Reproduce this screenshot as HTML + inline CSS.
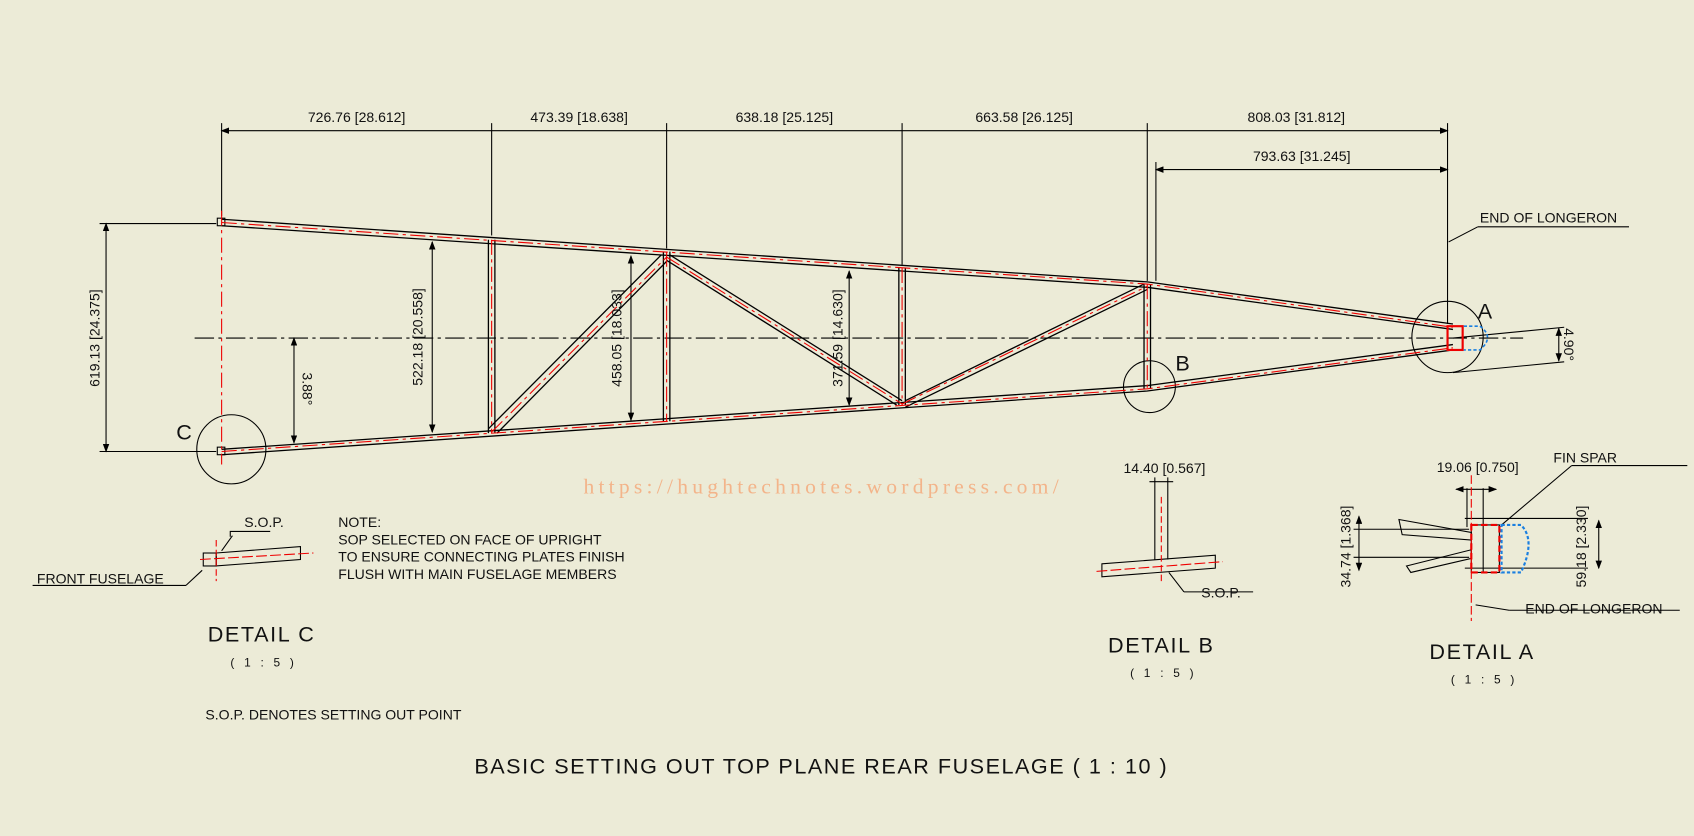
<!DOCTYPE html>
<html><head><meta charset="utf-8"><style>
html,body{margin:0;padding:0;background:#ECEBD7;}
svg{display:block}
text{font-family:"Liberation Sans",sans-serif;fill:#111}
</style></head><body>
<svg width="1694" height="836" viewBox="0 0 1568 774" xmlns="http://www.w3.org/2000/svg">
<rect width="1568" height="774" fill="#ECEBD7"/>
<defs>
<marker id="ar" markerWidth="8" markerHeight="6" refX="7" refY="3" orient="auto-start-reverse"><path d="M0,0L8,3L0,6z" fill="#000"/></marker>
</defs>
<g stroke="#000" stroke-width="1" fill="none">
<line x1="205" y1="114" x2="205" y2="200"/><line x1="455" y1="114" x2="455" y2="218"/>
<line x1="617" y1="114" x2="617" y2="230"/><line x1="835" y1="114" x2="835" y2="245"/>
<line x1="1062" y1="114" x2="1062" y2="260"/><line x1="1340" y1="114" x2="1340" y2="300"/>
<line x1="1070" y1="150" x2="1070" y2="260"/>
<line x1="205" y1="121" x2="1340" y2="121" marker-start="url(#ar)" marker-end="url(#ar)"/>
<line x1="1070" y1="157" x2="1340" y2="157" marker-start="url(#ar)" marker-end="url(#ar)"/>
<line x1="1341" y1="224" x2="1368" y2="210"/><line x1="1368" y1="210" x2="1508" y2="210"/>
<line x1="180" y1="313" x2="1410" y2="313" stroke-dasharray="18,4,3,4"/>
<line x1="1345" y1="313" x2="1448" y2="303"/>
<line x1="1345" y1="345" x2="1448" y2="335"/>
<line x1="1443" y1="304" x2="1443" y2="334" marker-start="url(#ar)" marker-end="url(#ar)"/>
<line x1="92" y1="207" x2="200" y2="207"/><line x1="92" y1="418" x2="200" y2="418"/>
<line x1="98" y1="207" x2="98" y2="418" marker-start="url(#ar)" marker-end="url(#ar)"/>
<line x1="272" y1="313" x2="272" y2="410" marker-start="url(#ar)" marker-end="url(#ar)"/>
<line x1="400" y1="224" x2="400" y2="400" marker-start="url(#ar)" marker-end="url(#ar)"/>
<line x1="584" y1="237" x2="584" y2="389" marker-start="url(#ar)" marker-end="url(#ar)"/>
<line x1="786" y1="251" x2="786" y2="375" marker-start="url(#ar)" marker-end="url(#ar)"/>
<g stroke-width="1.2">
<polyline points="205,203 1062,261 1345,300"/><polyline points="205,209 1062,266 1345,305"/>
<polyline points="205,416 1062,357 1345,319"/><polyline points="205,421 1062,362 1345,324"/>
<line x1="452" y1="222" x2="452" y2="401"/><line x1="458" y1="222" x2="458" y2="401"/>
<line x1="614" y1="233" x2="614" y2="390"/><line x1="620" y1="233" x2="620" y2="390"/>
<line x1="832" y1="248" x2="832" y2="375"/><line x1="838" y1="248" x2="838" y2="375"/>
<line x1="1059" y1="263" x2="1059" y2="360"/><line x1="1065" y1="263" x2="1065" y2="360"/>
<line x1="452" y1="397" x2="612" y2="236"/><line x1="460" y1="401" x2="617" y2="242"/>
<line x1="620" y1="236" x2="835" y2="371"/><line x1="617" y1="241" x2="830" y2="375"/>
<line x1="838" y1="371" x2="1059" y2="263"/><line x1="838" y1="377" x2="1062" y2="268"/>
</g>
<circle cx="214" cy="416" r="32"/><circle cx="1064" cy="358" r="24"/><circle cx="1340" cy="312" r="33"/>
<rect x="201" y="202" width="7" height="7"/><rect x="201" y="414" width="7" height="7"/>
</g>
<g stroke="#e00" stroke-width="1" fill="none" stroke-dasharray="14,4,3,4">
<polyline points="205,206 1062,263 1345,303"/><polyline points="205,418 1062,360 1345,322"/>
<line x1="455" y1="222" x2="455" y2="401"/><line x1="617" y1="233" x2="617" y2="390"/>
<line x1="835" y1="248" x2="835" y2="375"/><line x1="1062" y1="263" x2="1062" y2="360"/>
<line x1="455" y1="400" x2="617" y2="238"/><line x1="617" y1="238" x2="835" y2="374"/><line x1="835" y1="374" x2="1062" y2="265"/>
<line x1="205" y1="195" x2="205" y2="430"/>
</g>
<rect x="1340" y="302" width="14" height="22" fill="none" stroke="#e00" stroke-width="2"/>
<path d="M1355,302 h15 q14,10 0,22 h-15" fill="none" stroke="#1a7fe0" stroke-width="1.5" stroke-dasharray="3,2"/>
<g font-size="13">
<text x="330" y="113" text-anchor="middle">726.76 [28.612]</text>
<text x="536" y="113" text-anchor="middle">473.39 [18.638]</text>
<text x="726" y="113" text-anchor="middle">638.18 [25.125]</text>
<text x="948" y="113" text-anchor="middle">663.58 [26.125]</text>
<text x="1200" y="113" text-anchor="middle">808.03 [31.812]</text>
<text x="1205" y="149" text-anchor="middle">793.63 [31.245]</text>
<text x="1370" y="206">END OF LONGERON</text>
<text transform="translate(92,313) rotate(-90)" text-anchor="middle">619.13 [24.375]</text>
<text transform="translate(280,360) rotate(90)" text-anchor="middle">3.88°</text>
<text transform="translate(391,312) rotate(-90)" text-anchor="middle">522.18 [20.558]</text>
<text transform="translate(575,313) rotate(-90)" text-anchor="middle">458.05 [18.033]</text>
<text transform="translate(780,313) rotate(-90)" text-anchor="middle">371.59 [14.630]</text>
<text transform="translate(1448,319) rotate(90)" text-anchor="middle">4.90°</text>
</g>
<g font-size="20"><text x="163" y="407">C</text><text x="1088" y="343">B</text><text x="1368" y="295">A</text></g>
<text x="540" y="457" font-size="20" textLength="440" style="fill:#f3b48a;font-family:'Liberation Serif',serif">https://hughtechnotes.wordpress.com/</text>
<g stroke="#000" fill="none">
<polyline points="213,497 213,492 250,492"/><line x1="205" y1="510" x2="215" y2="496"/>
<line x1="172" y1="542" x2="187" y2="528"/><line x1="30" y1="542" x2="172" y2="542"/>
<rect x="188" y="512" width="12" height="12"/>
<polygon points="200,512 278,506 278,518 200,524"/>
</g>
<line x1="200" y1="500" x2="200" y2="538" stroke="#e00" stroke-dasharray="6,3"/>
<line x1="185" y1="518" x2="290" y2="512" stroke="#e00" stroke-dasharray="10,3"/>
<g font-size="13">
<text x="226" y="488">S.O.P.</text><text x="34" y="540">FRONT FUSELAGE</text>
<text x="313" y="488">NOTE:</text>
<text x="313" y="504">SOP SELECTED ON FACE OF UPRIGHT</text>
<text x="313" y="520">TO ENSURE CONNECTING PLATES FINISH</text>
<text x="313" y="536">FLUSH WITH MAIN FUSELAGE MEMBERS</text>
<text x="190" y="666">S.O.P. DENOTES SETTING OUT POINT</text>
</g>
<g font-size="20" letter-spacing="1.5">
<text x="242" y="594" text-anchor="middle">DETAIL C</text>
<text x="1075" y="604" text-anchor="middle">DETAIL B</text>
<text x="1372" y="610" text-anchor="middle">DETAIL A</text>
</g>
<text x="760" y="716" text-anchor="middle" font-size="20" letter-spacing="1" textLength="642">BASIC SETTING OUT TOP PLANE REAR FUSELAGE ( 1 : 10 )</text>
<g font-size="11" letter-spacing="3">
<text x="244" y="617" text-anchor="middle">( 1 : 5 )</text>
<text x="1077" y="627" text-anchor="middle">( 1 : 5 )</text>
<text x="1374" y="633" text-anchor="middle">( 1 : 5 )</text>
</g>
<g stroke="#000" fill="none">
<line x1="1064" y1="446" x2="1086" y2="446"/><line x1="1069" y1="442" x2="1069" y2="518"/><line x1="1081" y1="442" x2="1081" y2="518"/>
<polygon points="1020,522 1125,514 1125,526 1020,534"/>
<line x1="1082" y1="530" x2="1096" y2="548"/><line x1="1096" y1="548" x2="1160" y2="548"/>
</g>
<line x1="1075" y1="460" x2="1075" y2="540" stroke="#e00" stroke-dasharray="6,3"/>
<line x1="1015" y1="529" x2="1132" y2="520" stroke="#e00" stroke-dasharray="10,3"/>
<g font-size="13"><text x="1040" y="438">14.40 [0.567]</text><text x="1112" y="553">S.O.P.</text>
<text x="1330" y="437">19.06 [0.750]</text><text x="1438" y="428">FIN SPAR</text><text x="1412" y="568">END OF LONGERON</text></g>
<g stroke="#000" fill="none">
<polyline points="1455,431 1562,431"/><line x1="1455" y1="431" x2="1390" y2="486"/>
<polygon points="1295,481 1362,493 1362,500 1298,495"/>
<polygon points="1302,524 1362,509 1362,517 1306,530"/>
<rect x="1362" y="486" width="26" height="44"/>
<line x1="1356" y1="480" x2="1470" y2="480"/><line x1="1356" y1="526" x2="1470" y2="526"/>
<line x1="1358" y1="452" x2="1358" y2="488"/><line x1="1373" y1="452" x2="1373" y2="530"/>
<line x1="1348" y1="453" x2="1385" y2="453" marker-start="url(#ar)" marker-end="url(#ar)"/>
<line x1="1253" y1="490" x2="1360" y2="490"/><line x1="1253" y1="516" x2="1360" y2="516"/>
<line x1="1258" y1="478" x2="1258" y2="528" marker-start="url(#ar)" marker-end="url(#ar)"/>
<line x1="1480" y1="482" x2="1480" y2="526" marker-start="url(#ar)" marker-end="url(#ar)"/>
<line x1="1366" y1="560" x2="1397" y2="565"/><line x1="1397" y1="565" x2="1555" y2="565"/>
</g>
<line x1="1362" y1="440" x2="1362" y2="575" stroke="#e00" stroke-dasharray="8,3"/>
<rect x="1362" y="486" width="26" height="44" fill="none" stroke="#e00" stroke-width="2" stroke-dasharray="6,3"/>
<path d="M1390,486 h18 q14,14 0,44 h-18z" fill="none" stroke="#1a7fe0" stroke-width="2" stroke-dasharray="3,2"/>
<g font-size="13">
<text transform="translate(1250,506) rotate(-90)" text-anchor="middle">34.74 [1.368]</text>
<text transform="translate(1468,506) rotate(-90)" text-anchor="middle">59.18 [2.330]</text>
</g>
</svg>
</body></html>
